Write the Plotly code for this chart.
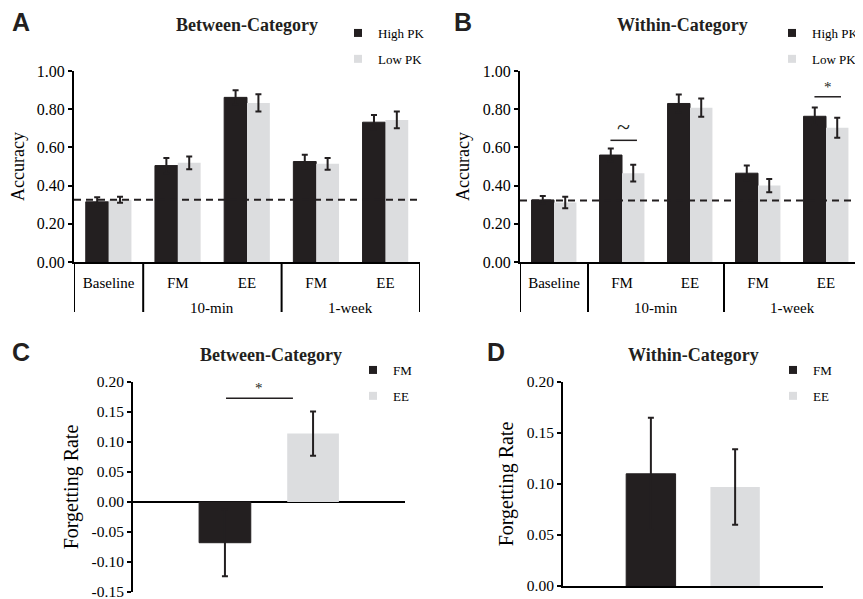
import plotly.graph_objects as go

# ---------------- data ----------------
groups = ["", "10-min", "10-min", "1-week", "1-week"]
conds = ["Baseline", "FM", "EE", "FM", "EE"]

a_high = [0.315, 0.505, 0.862, 0.526, 0.732]
a_high_err = [0.024, 0.040, 0.037, 0.035, 0.038]
a_low = [0.326, 0.519, 0.833, 0.514, 0.744]
a_low_err = [0.016, 0.033, 0.045, 0.031, 0.044]

b_high = [0.325, 0.560, 0.830, 0.465, 0.763]
b_high_err = [0.020, 0.034, 0.047, 0.040, 0.046]
b_low = [0.311, 0.465, 0.808, 0.400, 0.703]
b_low_err = [0.030, 0.044, 0.048, 0.035, 0.052]

chance_a = 0.326
chance_b = 0.322

fr_cat = ["Forgetting"]
c_fm, c_fm_err = [-0.068], [0.056]
c_ee, c_ee_err = [0.114], [0.037]
d_fm, d_fm_err = [0.110], [0.055]
d_ee, d_ee_err = [0.097], [0.037]

acc_ticks = [0, 0.2, 0.4, 0.6, 0.8, 1.0]
acc_ticktext = ["0.00", "0.20", "0.40", "0.60", "0.80", "1.00"]
c_ticks = [-0.15, -0.10, -0.05, 0, 0.05, 0.10, 0.15, 0.20]
c_ticktext = ["-0.15", "-0.10", "-0.05", "0.00", "0.05", "0.10", "0.15", "0.20"]
d_ticks = [0, 0.05, 0.10, 0.15, 0.20]
d_ticktext = ["0.00", "0.05", "0.10", "0.15", "0.20"]

# ---------------- style ----------------
DARK = "#231f20"
LIGHT = "#dcdddf"
SERIF = "Liberation Serif, Times New Roman, serif"
SANS = "Liberation Sans, Arial, sans-serif"
OX, OY = 8, 8          # page body margin
W, H = 855, 591

BW = 0.33          # bar width (category units) in A/B
FRW = 0.19         # bar width in C/D
FRC = 0.162        # half distance between bar centres in C/D

pos = list(range(len(conds)))

fig = go.Figure()

def add_acc(high, high_err, low, low_err, xa, ya, leg):
    fig.add_trace(go.Bar(x=pos, y=high, width=BW, offset=-BW,
                         marker=dict(color=DARK, line=dict(color=DARK, width=1)),
                         error_y=dict(type="data", array=high_err, color=DARK, thickness=2, width=3),
                         xaxis=xa, yaxis=ya, showlegend=False))
    fig.add_trace(go.Bar(x=pos, y=low, width=BW, offset=0, marker=dict(color=LIGHT, line=dict(width=0)),
                         error_y=dict(type="data", array=low_err, color=DARK, thickness=2, width=3),
                         xaxis=xa, yaxis=ya, showlegend=False))
    for name, col, g in [("High PK", DARK, "g1"), ("Low PK", LIGHT, "g2")]:
        fig.add_trace(go.Scatter(x=[None], y=[None], mode="markers", name=name, legend=leg, legendgroup=g,
                                 marker=dict(symbol="square", size=8, color=col), xaxis=xa, yaxis=ya))

def add_fr(fm, fm_err, ee, ee_err, xa, ya, leg):
    fig.add_trace(go.Bar(x=fr_cat, y=fm, width=FRW, offset=-FRC - FRW / 2,
                         marker=dict(color=DARK, line=dict(color=DARK, width=1)),
                         error_y=dict(type="data", array=fm_err, color=DARK, thickness=2, width=3),
                         xaxis=xa, yaxis=ya, showlegend=False))
    fig.add_trace(go.Bar(x=fr_cat, y=ee, width=FRW, offset=FRC - FRW / 2,
                         marker=dict(color=LIGHT, line=dict(width=0)),
                         error_y=dict(type="data", array=ee_err, color=DARK, thickness=2, width=3),
                         xaxis=xa, yaxis=ya, showlegend=False))
    for name, col, g in [("FM", DARK, "g1"), ("EE", LIGHT, "g2")]:
        fig.add_trace(go.Scatter(x=[None], y=[None], mode="markers", name=name, legend=leg, legendgroup=g,
                                 marker=dict(symbol="square", size=8, color=col), xaxis=xa, yaxis=ya))

add_acc(a_high, a_high_err, a_low, a_low_err, "x", "y", "legend")
add_acc(b_high, b_high_err, b_low, b_low_err, "x2", "y2", "legend2")
add_fr(c_fm, c_fm_err, c_ee, c_ee_err, "x3", "y3", "legend3")
add_fr(d_fm, d_fm_err, d_ee, d_ee_err, "x4", "y4", "legend4")

def px_x(p):
    return (p - OX) / W

def px_y(p):
    return 1 - (p - OY) / H

def cat_axis(dom, anchor):
    return dict(domain=dom, anchor=anchor, range=[-0.5, len(conds) - 0.5],
                tickvals=pos, ticktext=conds, ticklabelstandoff=6,
                showline=True, linecolor="black", linewidth=2, ticks="",
                tickfont=dict(family=SERIF, size=15, color="black"), automargin=False,
                showgrid=False, zeroline=False, fixedrange=True)

def y_axis(dom, anchor, rng, tv, tt, title, tsize, tick_size):
    return dict(domain=dom, anchor=anchor, range=rng, tickvals=tv, ticktext=tt,
                showline=True, linecolor="black", linewidth=2, ticks="outside", ticklen=4,
                tickwidth=1.5, tickcolor="black", showgrid=False, zeroline=False,
                ticklabeloverflow="allow",
                tickfont=dict(family=SERIF, size=tick_size, color="black"),
                title=dict(text=title, font=dict(family=SERIF, size=tsize, color="black"), standoff=8),
                automargin=False, fixedrange=True)

def fr_xaxis(dom, anchor, line):
    return dict(domain=dom, anchor=anchor, range=[-0.5, 0.5], showticklabels=False, ticks="",
                showline=line, linecolor="black", linewidth=2, showgrid=False, zeroline=False,
                automargin=False, fixedrange=True)

ydomAB = [px_y(262), px_y(71)]
fig.update_layout(
    xaxis=cat_axis([px_x(74), px_x(420)], "y"),
    yaxis=y_axis(ydomAB, "x", [0, 1.0], acc_ticks, acc_ticktext, "Accuracy", 18, 16),
    xaxis2=cat_axis([px_x(520), px_x(860)], "y2"),
    yaxis2=y_axis(ydomAB, "x2", [0, 1.0], acc_ticks, acc_ticktext, "Accuracy", 18, 16),
    xaxis3=fr_xaxis([px_x(133), px_x(405)], "y3", False),
    yaxis3=y_axis([px_y(592), px_y(382)], "x3", [-0.1502, 0.20], c_ticks, c_ticktext,
                  "Forgetting Rate", 20, 15.5),
    xaxis4=fr_xaxis([px_x(563), px_x(823)], "y4", True),
    yaxis4=y_axis([px_y(586), px_y(382)], "x4", [0, 0.20], d_ticks, d_ticktext,
                  "Forgetting Rate", 20, 15.5),
)
fig.layout.yaxis3.zeroline = True
fig.layout.yaxis3.zerolinecolor = "black"
fig.layout.yaxis3.zerolinewidth = 2

leg_common = dict(font=dict(family=SERIF, size=13, color="black"), bgcolor="rgba(0,0,0,0)",
                  xanchor="left", yanchor="top", tracegroupgap=6, itemwidth=30, traceorder="grouped")
fig.update_layout(
    legend=dict(x=px_x(338), y=px_y(18), **leg_common),
    legend2=dict(x=px_x(772), y=px_y(18), **leg_common),
    legend3=dict(x=px_x(353), y=px_y(355), **leg_common),
    legend4=dict(x=px_x(773), y=px_y(355), **leg_common),
)

shapes = []
ann = []

# group labels and dividers under the category axes
AB_PLOT_H = 262 - 71
div_depth = -(312 - 262) / AB_PLOT_H
grp_label_y = -(308 - 262) / AB_PLOT_H
boundaries = [-0.5] + [i + 0.5 for i in range(len(groups) - 1) if groups[i] != groups[i + 1]] + [len(groups) - 0.5]
group_names = []
for g in groups:
    if g and g not in group_names:
        group_names.append(g)
for xa, ya in [("x", "y"), ("x2", "y2")]:
    for b in boundaries:
        shapes.append(dict(type="line", xref=xa, yref=ya + " domain", x0=b, x1=b, y0=0, y1=div_depth,
                           line=dict(color="black", width=2)))
    for g in group_names:
        idx = [i for i, gg in enumerate(groups) if gg == g]
        ann.append(dict(text=g, xref=xa, yref=ya + " domain", x=sum(idx) / len(idx), y=grp_label_y,
                        xanchor="center", yanchor="middle", showarrow=False,
                        font=dict(family=SERIF, size=15, color="black")))

# chance lines
for xr, yr, val in [("x domain", "y", chance_a), ("x2 domain", "y2", chance_b)]:
    shapes.append(dict(type="line", xref=xr, yref=yr, x0=0, x1=1, y0=val, y1=val,
                       line=dict(color=DARK, width=2, dash="7px,5px"), layer="above"))

# significance markers in B (category index, height, symbol)
sig_b = [(1, 0.637, "~"), (4, 0.865, "*")]
for i, yv, sym in sig_b:
    x0, x1 = i - 0.17, i + 0.22
    shapes.append(dict(type="line", xref="x2", yref="y2", x0=x0, x1=x1, y0=yv, y1=yv,
                       line=dict(color=DARK, width=1.5)))
    ann.append(dict(text=sym, xref="x2", yref="y2", x=(x0 + x1) / 2, y=yv, yanchor="bottom",
                    yshift=-2 if sym == "~" else 0,
                    showarrow=False, font=dict(family=SERIF, size=24 if sym == "~" else 15, color=DARK)))

# significance in C
sig_c_y = 0.173
shapes.append(dict(type="line", xref="x3 domain", yref="y3", x0=0.342, x1=0.588, y0=sig_c_y, y1=sig_c_y,
                   line=dict(color=DARK, width=1.5)))
ann.append(dict(text="*", xref="x3 domain", yref="y3", x=0.465, y=sig_c_y, yanchor="bottom",
                showarrow=False, font=dict(family=SERIF, size=15, color=DARK)))

# titles
for text, x, y in [("Between-Category", 247, 25), ("Within-Category", 682, 25),
                   ("Between-Category", 271, 355), ("Within-Category", 693, 355)]:
    ann.append(dict(text="<b>%s</b>" % text, xref="paper", yref="paper", x=px_x(x), y=px_y(y),
                    xanchor="center", yanchor="middle", showarrow=False,
                    font=dict(family=SERIF, size=18, color=DARK)))
# panel letters
for text, x, y in [("A", 10, 22), ("B", 452, 22), ("C", 10, 352), ("D", 485, 352)]:
    ann.append(dict(text="<b>%s</b>" % text, xref="paper", yref="paper", x=px_x(x), y=px_y(y),
                    xanchor="left", yanchor="middle", showarrow=False,
                    font=dict(family=SANS, size=25, color=DARK)))

fig.update_layout(
    width=W, height=H, barmode="overlay",
    margin=dict(l=0, r=0, t=0, b=0, autoexpand=False),
    paper_bgcolor="white", plot_bgcolor="white",
    shapes=shapes, annotations=ann,
    font=dict(family=SERIF, color="black"),
)

fig.write_html("out.html")
